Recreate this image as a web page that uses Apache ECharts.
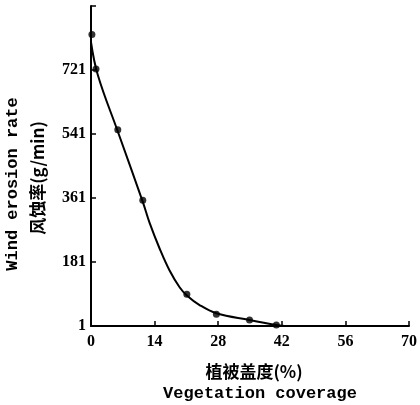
<!DOCTYPE html>
<html>
<head>
<meta charset="utf-8">
<script src="https://cdn.jsdelivr.net/npm/echarts@6/dist/echarts.min.js"></script>
<style>
  html, body { margin: 0; padding: 0; background: #fff; }
  #main { width: 420px; height: 405px; }
</style>
</head>
<body>
<div id="main"></div>
<script>
  // measured points (vegetation coverage %, wind erosion rate g/min)
  var coverage = [0.2, 1.1, 5.9, 11.4, 21.1, 27.6, 34.9, 40.8]
  var erosion = [821, 724, 553, 355, 90, 34, 18, 4]

  // fitted curve
  var curveX = [0, 1.5, 5.9, 11.4, 12.9, 15.1, 17.3, 19.5, 21.1, 23.9, 27.6, 34.9, 40.8, 42.6]
  var curveY = [799, 707, 548, 350, 291, 219, 157, 110, 87, 60, 37, 18, 4, 1]

  var xTicks = [0, 14, 28, 42, 56, 70]
  var yTicks = [1, 181, 361, 541, 721]

  var chart = echarts.init(document.getElementById('main'))

  var axisFont = {
    color: '#000',
    fontFamily: 'Liberation Serif',
    fontWeight: 'bold',
    fontSize: 16
  }

  chart.setOption({
    animation: false,
    grid: {
      left: 91,
      right: 10,
      top: 6,
      bottom: 79
    },
    xAxis: {
      type: 'value',
      min: xTicks[0],
      max: xTicks[xTicks.length - 1],
      interval: 14,
      axisLine: { lineStyle: { color: '#000', width: 2 } },
      axisTick: { inside: true, length: 5, lineStyle: { color: '#000', width: 1.5 } },
      splitLine: { show: false },
      axisLabel: Object.assign({ margin: 8 }, axisFont)
    },
    yAxis: {
      type: 'value',
      min: yTicks[0],
      max: 901,
      interval: 180,
      axisLine: { lineStyle: { color: '#000', width: 2 } },
      axisTick: { inside: true, length: 5, lineStyle: { color: '#000', width: 1.5 } },
      splitLine: { show: false },
      axisLabel: Object.assign({
        margin: 5,
        formatter: function (v) {
          return yTicks.indexOf(v) >= 0 ? String(v) : ''
        }
      }, axisFont)
    },
    series: [
      {
        type: 'line',
        data: curveX.map(function (x, i) { return [x, curveY[i]] }),
        smooth: 0.4,
        symbol: 'none',
        lineStyle: { color: '#000', width: 2 },
        z: 2
      },
      {
        type: 'scatter',
        data: coverage.map(function (x, i) { return [x, erosion[i]] }),
        symbolSize: 7,
        itemStyle: { color: '#000' },
        z: 3
      }
    ],
    graphic: [
      {
        type: 'text',
        x: 13, y: 184,
        rotation: Math.PI / 2,
        style: {
          text: 'Wind erosion rate',
          font: 'bold 17px "Liberation Mono"',
          fill: '#000',
          align: 'center',
          verticalAlign: 'middle'
        }
      },
      {
        type: 'text',
        x: 38, y: 178,
        rotation: Math.PI / 2,
        style: {
          text: '风蚀率(g/min)',
          font: 'bold 17px "Noto Sans CJK SC", "Liberation Mono"',
          fill: '#000',
          align: 'center',
          verticalAlign: 'middle'
        }
      },
      {
        type: 'text',
        x: 254, y: 372,
        style: {
          text: '植被盖度(%)',
          font: 'bold 17px "Noto Sans CJK SC", "Liberation Serif"',
          fill: '#000',
          align: 'center',
          verticalAlign: 'middle'
        }
      },
      {
        type: 'text',
        x: 260, y: 394,
        style: {
          text: 'Vegetation coverage',
          font: 'bold 17px "Liberation Mono"',
          fill: '#000',
          align: 'center',
          verticalAlign: 'middle'
        }
      }
    ]
  })
</script>
</body>
</html>
